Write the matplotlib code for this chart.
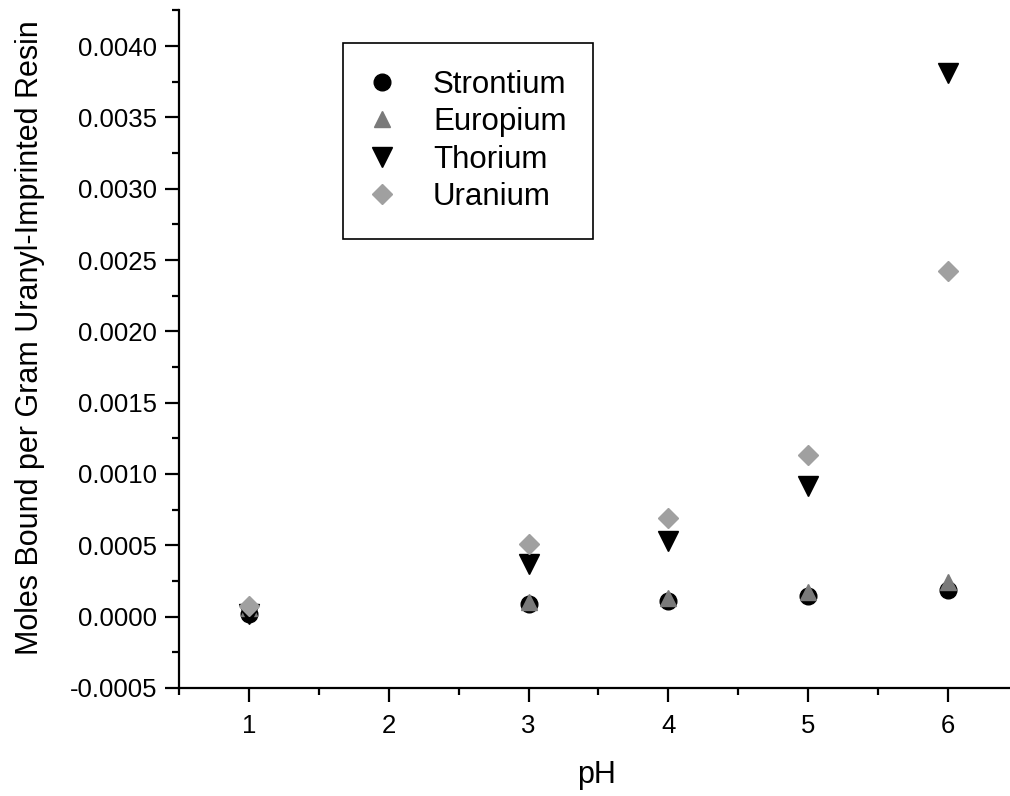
import matplotlib
matplotlib.use('Agg')
import matplotlib.pyplot as plt
from matplotlib.ticker import MultipleLocator

plt.rcParams['font.family'] = ['Liberation Sans', 'DejaVu Sans']

ph = [1, 3, 4, 5, 6]
strontium = [0.000022, 0.000088, 0.000110, 0.000145, 0.000186]
europium = [0.000060, 0.000105, 0.000130, 0.000170, 0.000245]
thorium = [0.000020, 0.000371, 0.000528, 0.000916, 0.003810]
uranium = [0.000072, 0.000510, 0.000690, 0.001130, 0.002420]

fig = plt.figure(figsize=(10.10, 7.96), dpi=100)
ax = fig.add_axes([0.1777, 0.1357, 0.8213, 0.8513])

ax.plot(ph, strontium, 'o', color='black', ms=12, mec='black', label='Strontium')
ax.plot(ph, europium, '^', color='#7a7a7a', ms=12, mec='#7a7a7a', label='Europium')
ax.plot(ph, thorium, 'v', color='black', ms=14, mec='black', label='Thorium')
ax.plot(ph, uranium, 'D', color='#a0a0a0', ms=10, mec='#a0a0a0', label='Uranium')

ax.set_xlim(0.5, 6.44)
ax.set_ylim(-0.0005, 0.00425)
ax.xaxis.set_major_locator(MultipleLocator(1))
ax.xaxis.set_minor_locator(MultipleLocator(0.5))
ax.yaxis.set_major_locator(MultipleLocator(0.0005))
ax.yaxis.set_minor_locator(MultipleLocator(0.00025))
ax.yaxis.set_major_formatter(plt.FuncFormatter(lambda v, p: '%.4f' % v))

for side in ['top', 'right']:
    ax.spines[side].set_visible(False)
for side in ['left', 'bottom']:
    ax.spines[side].set_linewidth(1.6)

ax.tick_params(which='major', direction='out', length=10, width=1.6, labelsize=18.5, pad=6)
ax.tick_params(which='minor', direction='out', length=5, width=1.6)
ax.tick_params(axis='x', which='major', pad=9)

ax.set_xlabel('pH', fontsize=22)
ax.xaxis.set_label_coords(0.503, -0.107)
ax.set_ylabel('Moles Bound per Gram Uranyl-Imprinted Resin', fontsize=22)
ax.yaxis.set_label_coords(-0.162, 0.517)

leg = ax.legend(loc='upper left', bbox_to_anchor=(0.3396, 0.946), bbox_transform=fig.transFigure,
                borderaxespad=0, fancybox=False, edgecolor='black', framealpha=1,
                fontsize=22.5, handletextpad=1.24, labelspacing=0.24, borderpad=0.85,
                handlelength=0.79)
leg.get_frame().set_linewidth(1.2)

fig.savefig('out.png', dpi=100)
